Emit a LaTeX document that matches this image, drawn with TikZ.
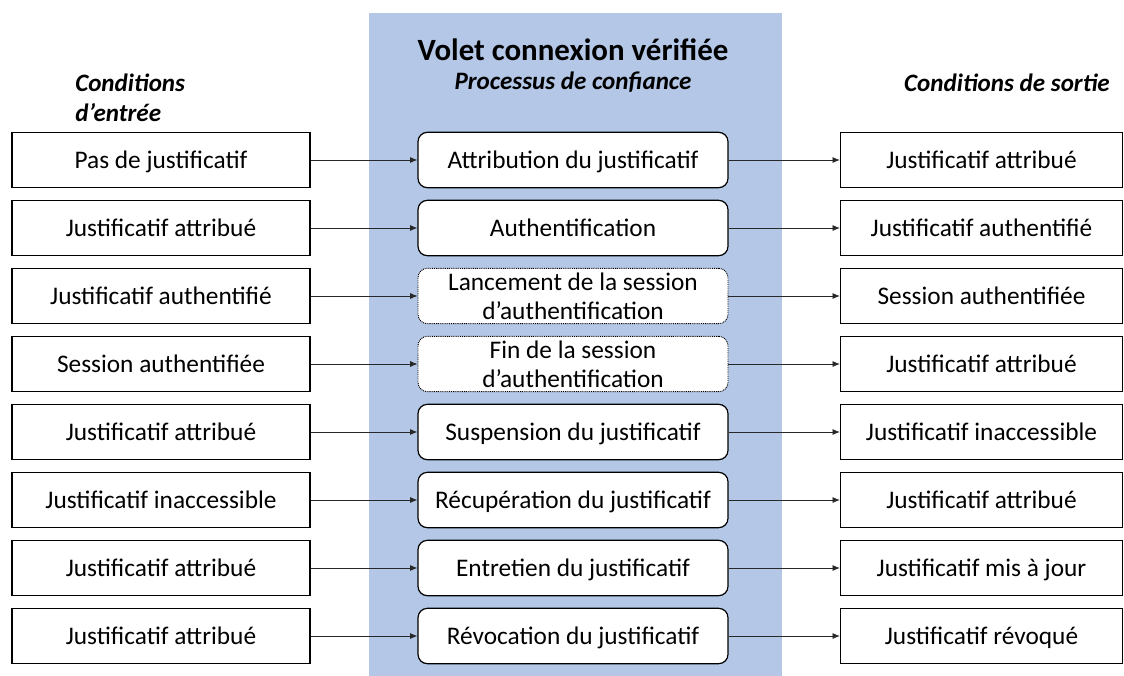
\documentclass[tikz,border=0pt]{standalone}
\usepackage{fontspec}
\setmainfont{Carlito}
\usetikzlibrary{arrows.meta}
\definecolor{band}{RGB}{180,199,231}
\definecolor{lnk}{RGB}{40,40,40}
\begin{document}
\begin{tikzpicture}[x=0.75pt,y=-0.75pt,
  boxtext/.style={font=\fontsize{19}{22}\selectfont, align=center, inner sep=0pt},
  oneline/.style={text height=15pt, text depth=2pt},
  inbox/.style={boxtext, oneline, draw, fill=white, line width=0.9pt, minimum width=223.5pt, minimum height=41.5pt},
  outbox/.style={boxtext, oneline, draw, fill=white, line width=0.9pt, minimum width=211.5pt, minimum height=41.5pt},
  procframe/.style={boxtext, draw, fill=white, line width=0.9pt, rounded corners=7pt, minimum width=232.5pt, minimum height=41.5pt},
  procbox/.style={procframe, oneline},
  dotbox/.style={procframe, line width=0.7pt, dash pattern=on 0.7pt off 0.7pt},
  arr/.style={draw=lnk, line width=0.6pt, -{Latex[length=5.5pt,width=4.5pt]}},
  head/.style={font=\fontsize{18.8}{22.5}\selectfont\bfseries\itshape, inner sep=0pt}
]
\useasboundingbox (0,0) rectangle (1124,675);
\clip (0,0) rectangle (1124,675);
\fill[band] (369,13) rectangle (782,680);

\node[font=\fontsize{23.2}{27}\selectfont\bfseries, inner sep=0pt] (title) at (573,50) {Volet connexion vérifiée};
\node[head] (subtitle) at (573,82) {Processus de confiance};
\node[head, anchor=west, align=left] (inhead) at (75,98) {Conditions\\d’entrée};
\node[head] (outhead) at (1007,83) {Conditions de sortie};

\foreach \i/\a/\b/\c in {
  1/{Pas de justificatif}/{Attribution du justificatif}/{Justificatif attribué},
  2/{Justificatif attribué}/{Authentification}/{Justificatif authentifié},
  5/{Justificatif attribué}/{Suspension du justificatif}/{Justificatif inaccessible},
  6/{Justificatif inaccessible}/{Récupération du justificatif}/{Justificatif attribué},
  7/{Justificatif attribué}/{Entretien du justificatif}/{Justificatif mis à jour},
  8/{Justificatif attribué}/{Révocation du justificatif}/{Justificatif révoqué}} {
  \node[inbox] (L\i) at (161,92+68*\i) {\a};
  \node[procbox] (M\i) at (573,92+68*\i) {\b};
  \node[outbox] (R\i) at (981.5,92+68*\i) {\c};
}
\node[inbox] (L3) at (161,296) {Justificatif authentifié};
\node[dotbox] (M3) at (573,296) {Lancement de la session\\d’authentification};
\node[outbox] (R3) at (981.5,296) {Session authentifiée};
\node[inbox] (L4) at (161,364) {Session authentifiée};
\node[dotbox] (M4) at (573,364) {Fin de la session\\d’authentification};
\node[outbox] (R4) at (981.5,364) {Justificatif attribué};

\foreach \i in {1,...,8} {
  \draw[arr] (L\i.east) -- (M\i.west);
  \draw[arr] (M\i.east) -- (R\i.west);
}
\end{tikzpicture}
\end{document}
